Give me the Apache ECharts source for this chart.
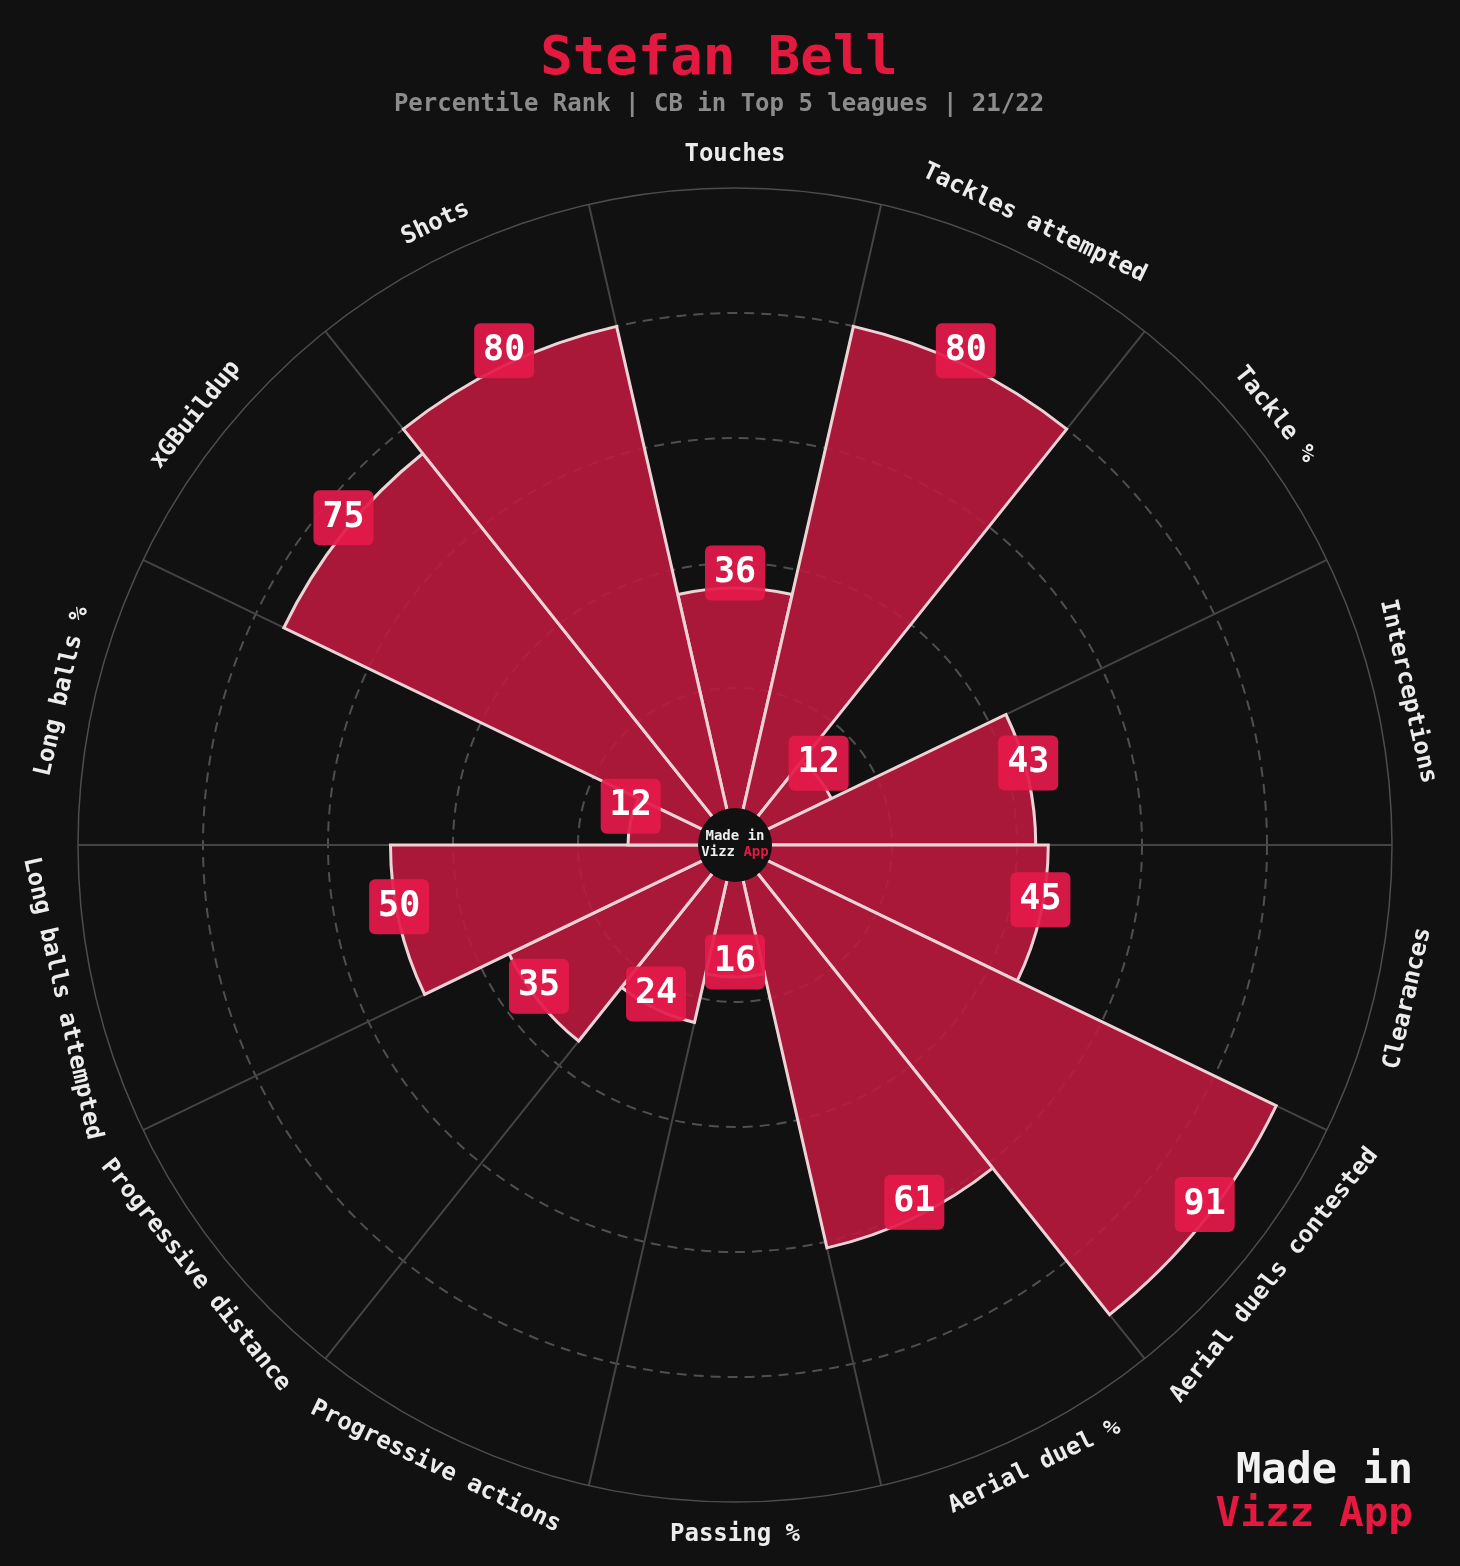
<!DOCTYPE html>
<html>
<head>
<meta charset="utf-8">
<script src="https://cdn.jsdelivr.net/npm/echarts@6/dist/echarts.min.js"></script>
<style>
html,body{margin:0;padding:0;background:#111111;}
#chart{width:1460px;height:1566px;}
</style>
</head>
<body>
<div id="chart"></div>
<script>
const categories = ["Touches","Tackles attempted","Tackle %","Interceptions","Clearances","Aerial duels contested","Aerial duel %","Passing %","Progressive actions","Progressive distance","Long balls attempted","Long balls %","xGBuildup","Shots"];
const values = [36, 80, 12, 43, 45, 91, 61, 16, 24, 35, 50, 12, 75, 80];
const radialTicks = [0, 20, 40, 60, 80, 100];
const titleText = "Stefan Bell";
const subtitleText = "Percentile Rank | CB in Top 5 leagues | 21/22";

const FONT = "'DejaVu Sans Mono', monospace";
const n = categories.length;
const step = 360 / n;

const catLabelData = categories.map((c, i) => {
  const theta = i * step; // clockwise from top
  let rot;
  if (theta <= 90 || theta >= 270) rot = -theta; else rot = 180 - theta;
  return { value: [105.3, i], name: c, label: { rotate: rot } };
});

const chart = echarts.init(document.getElementById('chart'));
chart.setOption({
  backgroundColor: '#111111',
  animation: false,
  title: [
    {
      text: titleText,
      subtext: subtitleText,
      left: 714, top: 28, textAlign: 'center',
      itemGap: 6,
      textStyle: { color: '#e3193f', fontSize: 54, fontFamily: FONT, fontWeight: 'bold' },
      subtextStyle: { color: '#8c8c8c', fontSize: 24, fontFamily: FONT, fontWeight: 'bold' }
    },
    {
      text: 'Made in',
      subtext: 'Vizz App',
      left: 1408, top: 1446, textAlign: 'right',
      itemGap: 2,
      textStyle: { color: '#f2f2f2', fontSize: 42, fontFamily: FONT, fontWeight: 'bold' },
      subtextStyle: { color: '#e3193f', fontSize: 41, fontFamily: FONT, fontWeight: 'bold' }
    }
  ],
  polar: { center: [735, 845], radius: [32, 657] },
  angleAxis: {
    type: 'category',
    data: categories,
    startAngle: 90 + step / 2,
    clockwise: true,
    boundaryGap: true,
    axisLine: { show: true, lineStyle: { color: '#4d4d4d', width: 1.5 } },
    axisTick: { show: false },
    axisLabel: { show: false },
    splitLine: { show: true, lineStyle: { color: '#444444', width: 2 } },
    z: 1
  },
  radiusAxis: {
    type: 'value',
    min: radialTicks[0], max: radialTicks[radialTicks.length - 1], interval: 20,
    axisLine: { show: false },
    axisTick: { show: false },
    axisLabel: { show: false },
    splitLine: {
      show: true,
      lineStyle: {
        color: ['rgba(0,0,0,0)', '#4f4f4f', '#4f4f4f', '#4f4f4f', '#4f4f4f', 'rgba(0,0,0,0)'],
        width: 2, type: [10, 7]
      }
    },
    z: 1
  },
  series: [
    {
      type: 'bar',
      coordinateSystem: 'polar',
      data: values,
      barCategoryGap: '0%',
      itemStyle: { color: 'rgba(186,24,62,0.9)', borderColor: '#edd3d6', borderWidth: 3 },
      z: 2
    },
    {
      type: 'scatter',
      coordinateSystem: 'polar',
      clip: false,
      symbolSize: 1,
      itemStyle: { color: 'rgba(0,0,0,0)', opacity: 1 },
      data: values.map((v, i) => [v, i]),
      label: {
        show: true,
        position: 'inside',
        offset: [0, -15],
        formatter: p => String(p.value[0]),
        color: '#ffffff',
        fontSize: 35,
        fontFamily: FONT,
        fontWeight: 'bold',
        backgroundColor: 'rgba(228,26,74,0.93)',
        borderRadius: 6,
        width: 60, height: 55, lineHeight: 55,
        align: 'center', verticalAlign: 'middle'
      },
      z: 5
    },
    {
      type: 'scatter',
      coordinateSystem: 'polar',
      clip: false,
      symbolSize: 1,
      itemStyle: { color: 'rgba(0,0,0,0)', opacity: 1 },
      data: catLabelData,
      label: {
        show: true,
        position: 'inside',
        formatter: p => p.name,
        color: '#ececec',
        fontSize: 24,
        fontFamily: FONT,
        fontWeight: 'bold',
        align: 'center', verticalAlign: 'middle'
      },
      z: 5
    }
  ],
  graphic: [
    {
      type: 'circle', z: 100,
      shape: { cx: 735, cy: 845, r: 37 },
      style: { fill: '#111111' }
    },
    {
      type: 'text', z: 101,
      x: 735, y: 836,
      style: { text: 'Made in', fill: '#eeeeee', font: "bold 14px 'DejaVu Sans Mono'", align: 'center', verticalAlign: 'middle' }
    },
    {
      type: 'text', z: 101,
      x: 735, y: 852,
      style: {
        text: '{w|Vizz }{r|App}',
        align: 'center', verticalAlign: 'middle',
        rich: {
          w: { fill: '#eeeeee', font: "bold 14px 'DejaVu Sans Mono'" },
          r: { fill: '#e3193f', font: "bold 14px 'DejaVu Sans Mono'" }
        }
      }
    }
  ]
});
</script>
</body>
</html>
